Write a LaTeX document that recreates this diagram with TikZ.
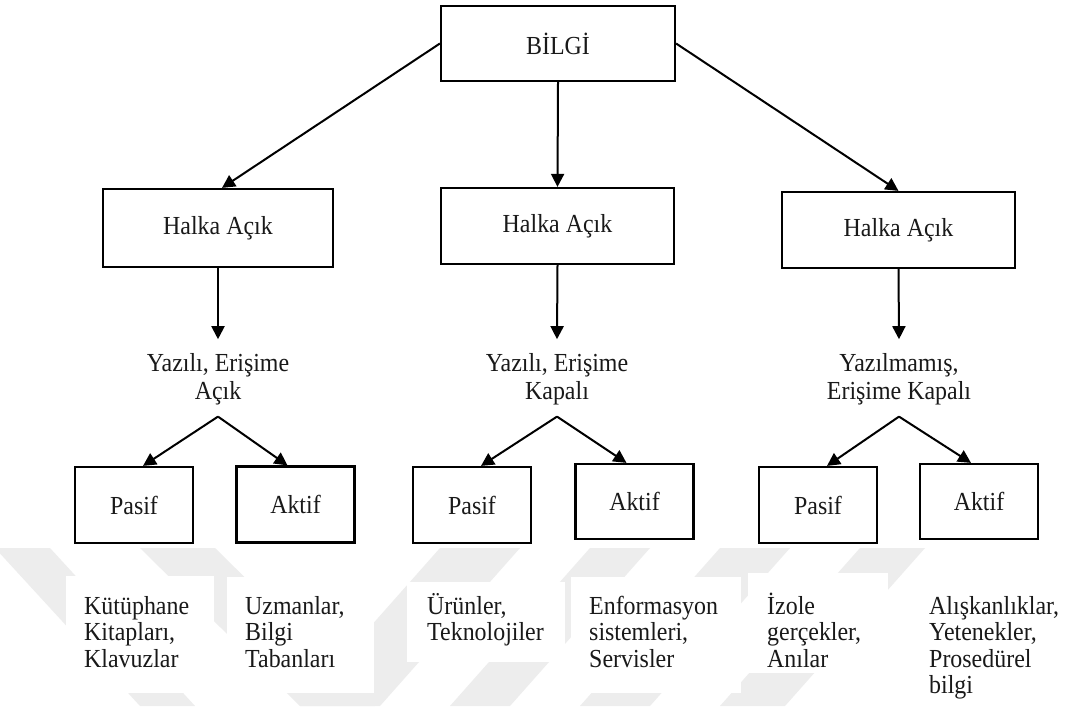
\documentclass[tikz,border=0pt]{standalone}
\usepackage{fontspec}
\setmainfont[FakeStretch=0.92]{Liberation Serif}
\usetikzlibrary{arrows.meta}
\begin{document}
\begin{tikzpicture}[x=1pt,y=-1pt,
  every node/.style={font=\fontsize{26}{28}\selectfont, text=black!90},
  box/.style={draw=black, line width=2.2pt, fill=white, inner sep=0pt},
  topbox/.style={box, minimum width=233pt, minimum height=76pt},
  leafbox/.style={box, minimum width=118pt, minimum height=76pt},
  lbl/.style={inner sep=0pt, anchor=base},
  leaftext/.style={inner sep=0pt, anchor=base west, font=\fontsize{26}{26.5}\selectfont},
  arr/.style={line width=2pt, -{Triangle[length=13pt,width=13pt]}},
  stripe/.style={fill=black!7},
  pad/.style={fill=white}]
\useasboundingbox (0,0) rectangle (1067,706);
\fill[white] (0,0) rectangle (1067,706);

% faint background stripes
\fill[stripe] (-5,548) -- (50,548) -- (195,706) -- (140,706) -- cycle;
\fill[stripe] (140,548) -- (215,548) -- (375,706) -- (300,706) -- cycle;
\fill[stripe] (440,548) -- (520,548) -- (380,706) -- (300,706) -- cycle;
\fill[stripe] (590,548) -- (650,548) -- (510,706) -- (450,706) -- cycle;
\fill[stripe] (720,548) -- (790,548) -- (650,706) -- (580,706) -- cycle;
\fill[stripe] (860,548) -- (925,548) -- (785,706) -- (720,706) -- cycle;

% white panels behind the bottom texts
\fill[pad] (66,576) rectangle (214,693);
\fill[pad] (227,577) rectangle (374,693);
\fill[pad] (407,582) rectangle (565,662);
\fill[pad] (571,577) rectangle (741,693);
\fill[pad] (748,573) rectangle (888,673);
\fill[pad] (905,576) rectangle (1067,706);

% root
\node[box, minimum width=234pt, minimum height=75pt] (bilgi) at (558,43.5) {BİLGİ};

% second level
\node[topbox, minimum width=230pt, minimum height=78pt] (h1) at (218,228) {Halka Açık};
\node[topbox] (h2) at (557.5,226) {Halka Açık};
\node[topbox] (h3) at (898.5,230) {Halka Açık};

% category labels
\node[lbl] (l1) at (218,371) {\begin{tabular}[t]{@{}c@{}}Yazılı, Erişime\\Açık\end{tabular}};
\node[lbl] (l2) at (557,371) {\begin{tabular}[t]{@{}c@{}}Yazılı, Erişime\\Kapalı\end{tabular}};
\node[lbl] (l3) at (899,371) {\begin{tabular}[t]{@{}c@{}}Yazılmamış,\\Erişime Kapalı\end{tabular}};

% leaves
\node[leafbox] (p1) at (134,505) {Pasif};
\node[leafbox] (a1) at (295.5,504.5) {Aktif};
\node[leafbox] (p2) at (472,505) {Pasif};
\node[leafbox, minimum height=75pt] (a2) at (634.5,501.5) {Aktif};
\node[leafbox] (p3) at (818,505) {Pasif};
\node[leafbox, minimum height=75pt] (a3) at (979,501.5) {Aktif};

% examples
\node[leaftext] (t1) at (84,614) {\begin{tabular}[t]{@{}l@{}}Kütüphane\\Kitapları,\\Klavuzlar\end{tabular}};
\node[leaftext] (t2) at (245,614) {\begin{tabular}[t]{@{}l@{}}Uzmanlar,\\Bilgi\\Tabanları\end{tabular}};
\node[leaftext] (t3) at (427,614) {\begin{tabular}[t]{@{}l@{}}Ürünler,\\Teknolojiler\end{tabular}};
\node[leaftext] (t4) at (589,614) {\begin{tabular}[t]{@{}l@{}}Enformasyon\\sistemleri,\\Servisler\end{tabular}};
\node[leaftext] (t5) at (767,614) {\begin{tabular}[t]{@{}l@{}}İzole\\gerçekler,\\Anılar\end{tabular}};
\node[leaftext] (t6) at (929,614) {\begin{tabular}[t]{@{}l@{}}Alışkanlıklar,\\Yetenekler,\\Prosedürel\\bilgi\end{tabular}};

% connectors
\draw[arr] (bilgi.west) -- ([xshift=4pt]h1.north);
\draw[arr] (bilgi.south) -- (h2.north);
\draw[arr] (bilgi.east) -- (h3.north);

\draw[arr] (h1.south) -- ([yshift=12pt]l1.north);
\draw[arr] (h2.south) -- ([yshift=12pt]l2.north);
\draw[arr] (h3.south) -- ([yshift=12pt]l3.north);

\draw[arr] ([yshift=-9pt]l1.south) -- ([xshift=9pt]p1.north);
\draw[arr] ([yshift=-9pt]l1.south) -- ([xshift=-8pt]a1.north);
\draw[arr] ([yshift=-9pt]l2.south) -- ([xshift=9pt]p2.north);
\draw[arr] ([yshift=-9pt]l2.south) -- ([xshift=-8pt]a2.north);
\draw[arr] ([yshift=-9pt]l3.south) -- ([xshift=9pt]p3.north);
\draw[arr] ([yshift=-9pt]l3.south) -- ([xshift=-8pt]a3.north);
\end{tikzpicture}
\end{document}
